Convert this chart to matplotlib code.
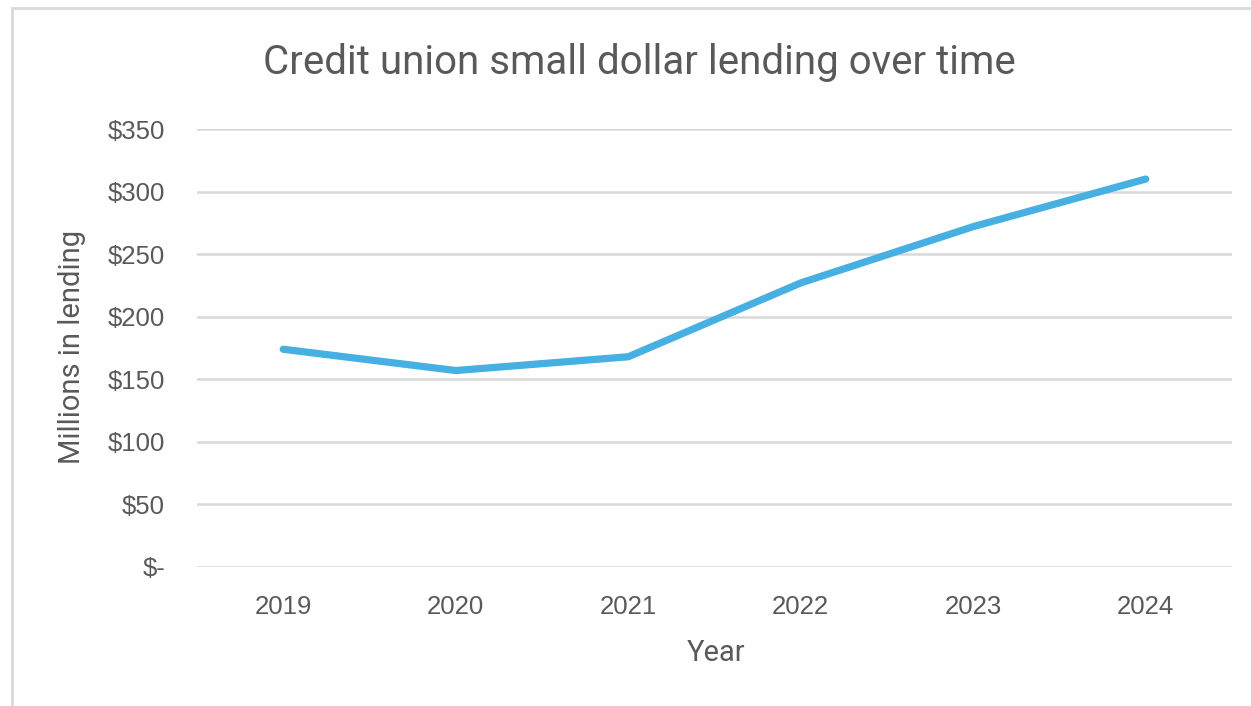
import matplotlib.pyplot as plt
from matplotlib.patches import Rectangle

years = ["2019", "2020", "2021", "2022", "2023", "2024"]
lending = [174, 157, 168, 227, 272, 310]  # millions
yticks = [0, 50, 100, 150, 200, 250, 300, 350]
ytick_labels = ["$-", "$50", "$100", "$150", "$200", "$250", "$300", "$350"]

txt = "#595959"
grid = "#d9d9d9"
blue = "#45b0e1"

fig = plt.figure(figsize=(12.51, 7.06), dpi=100)
W, H = 1251, 706

# chart frame (only left and top edges are visible in the crop)
fig.patches.append(Rectangle((12/W, -0.2), 1.2, 1.2 - 8/H,
                             transform=fig.transFigure, fill=False,
                             edgecolor=grid, linewidth=2))

ax = fig.add_axes([197/W, 1 - 567/H, (1232-197)/W, (567-129)/H])
x = list(range(len(years)))
ax.plot(x, lending, color=blue, linewidth=5.2, solid_capstyle="round",
        solid_joinstyle="round", zorder=3)

ax.set_xlim(-0.5, len(years) - 0.5)
ax.set_ylim(0, 350)
ax.set_yticks(yticks)
ax.set_yticklabels(ytick_labels)
ax.set_xticks(x)
ax.set_xticklabels(years)
ax.grid(axis="y", color=grid, linewidth=1.8, zorder=0)
for s in ax.spines.values():
	s.set_visible(False)
ax.tick_params(length=0, labelcolor=txt, labelsize=18.5)
ax.tick_params(axis="y", pad=23)
ax.tick_params(axis="x", pad=20)
for lab in ax.get_xticklabels() + ax.get_yticklabels():
	lab.set_family("Liberation Sans")

fig.text(639/W, 1 - 62/H, "Credit union small dollar lending over time",
         ha="center", va="center", color=txt, fontsize=29, family="Roboto")
fig.text(716/W, 1 - 653/H, "Year", ha="center", va="center",
         color=txt, fontsize=21, family="Roboto")
fig.text(72/W, 1 - 347/H, "Millions in lending", ha="center", va="center",
         rotation=90, color=txt, fontsize=21, family="Roboto")

fig.savefig("out.png", dpi=100)
